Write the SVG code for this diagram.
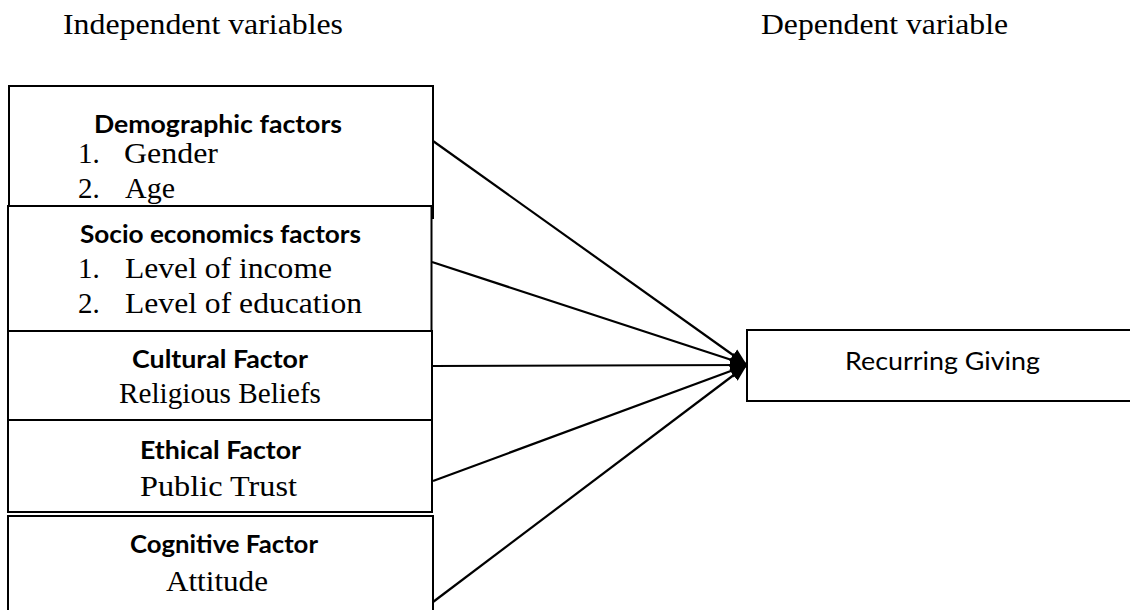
<svg xmlns="http://www.w3.org/2000/svg" width="1130" height="610" viewBox="0 0 1130 610">
  <style>
    .box { fill: #ffffff; stroke: #000000; stroke-width: 2; }
    .head { font-family: "Liberation Serif", "Times New Roman", serif; font-size: 30px; fill: #000000; }
    .ser { font-family: "Liberation Serif", "Times New Roman", serif; font-size: 29px; fill: #000000; }
    .bold { font-family: Lato, "Open Sans", "Liberation Sans", sans-serif; font-weight: 700; font-size: 25px; fill: #000000; }
    .reg { font-family: Lato, "Open Sans", "Liberation Sans", sans-serif; font-size: 25px; fill: #000000; }
    .link { stroke: #000000; stroke-width: 2.2; fill: none; marker-end: url(#arrow); }
  </style>
  <defs>
    <marker id="arrow" markerUnits="userSpaceOnUse" markerWidth="18" markerHeight="16" refX="17" refY="8" orient="auto">
      <path d="M0,1 L17,8 L0,15 Z" fill="#000000"/>
    </marker>
  </defs>

  <rect width="1130" height="610" fill="#ffffff"/>

  <!-- column headings -->
  <text class="head" x="63" y="34" textLength="280" lengthAdjust="spacingAndGlyphs">Independent variables</text>
  <text class="head" x="761" y="34" textLength="247" lengthAdjust="spacingAndGlyphs">Dependent variable</text>

  <g id="demographic">
    <rect class="box" x="9" y="86" width="424" height="132"/>
    <text class="bold" x="94" y="133" textLength="248" lengthAdjust="spacingAndGlyphs">Demographic factors</text>
    <text class="ser" x="78" y="163">1.</text>
    <text class="ser" x="124" y="163" textLength="94" lengthAdjust="spacingAndGlyphs">Gender</text>
    <text class="ser" x="78" y="198">2.</text>
    <text class="ser" x="125" y="198" textLength="50" lengthAdjust="spacingAndGlyphs">Age</text>
  </g>

  <g id="socio-economic">
    <rect class="box" x="8" y="206" width="423.5" height="125"/>
    <text class="bold" x="80" y="243" textLength="281" lengthAdjust="spacingAndGlyphs">Socio economics factors</text>
    <text class="ser" x="78" y="278">1.</text>
    <text class="ser" x="125" y="278" textLength="207" lengthAdjust="spacingAndGlyphs">Level of income</text>
    <text class="ser" x="78" y="313">2.</text>
    <text class="ser" x="125" y="313" textLength="237" lengthAdjust="spacingAndGlyphs">Level of education</text>
  </g>

  <g id="cultural">
    <rect class="box" x="8" y="331" width="424" height="89"/>
    <text class="bold" x="132" y="368" textLength="176" lengthAdjust="spacingAndGlyphs">Cultural Factor</text>
    <text class="ser" x="119" y="403" textLength="202" lengthAdjust="spacingAndGlyphs">Religious Beliefs</text>
  </g>

  <g id="ethical">
    <rect class="box" x="8" y="420" width="424" height="92"/>
    <text class="bold" x="140" y="459" textLength="161" lengthAdjust="spacingAndGlyphs">Ethical Factor</text>
    <text class="ser" x="140" y="496" textLength="157" lengthAdjust="spacingAndGlyphs">Public Trust</text>
  </g>

  <g id="cognitive">
    <rect class="box" x="8" y="516" width="425" height="110"/>
    <text class="bold" x="130" y="553" textLength="188" lengthAdjust="spacingAndGlyphs">Cognitive Factor</text>
    <text class="ser" x="166" y="591" textLength="102" lengthAdjust="spacingAndGlyphs">Attitude</text>
  </g>

  <g id="recurring-giving">
    <rect class="box" x="747" y="330" width="420" height="71"/>
    <text class="reg" x="845" y="370" textLength="195" lengthAdjust="spacingAndGlyphs">Recurring Giving</text>
  </g>

  <g id="connectors">
    <line class="link" x1="433" y1="141" x2="747" y2="365"/>
    <line class="link" x1="432" y1="262" x2="747" y2="365"/>
    <line class="link" x1="433" y1="366" x2="747" y2="365"/>
    <line class="link" x1="433" y1="481" x2="747" y2="365"/>
    <line class="link" x1="433" y1="602" x2="747" y2="365"/>
  </g>
</svg>
